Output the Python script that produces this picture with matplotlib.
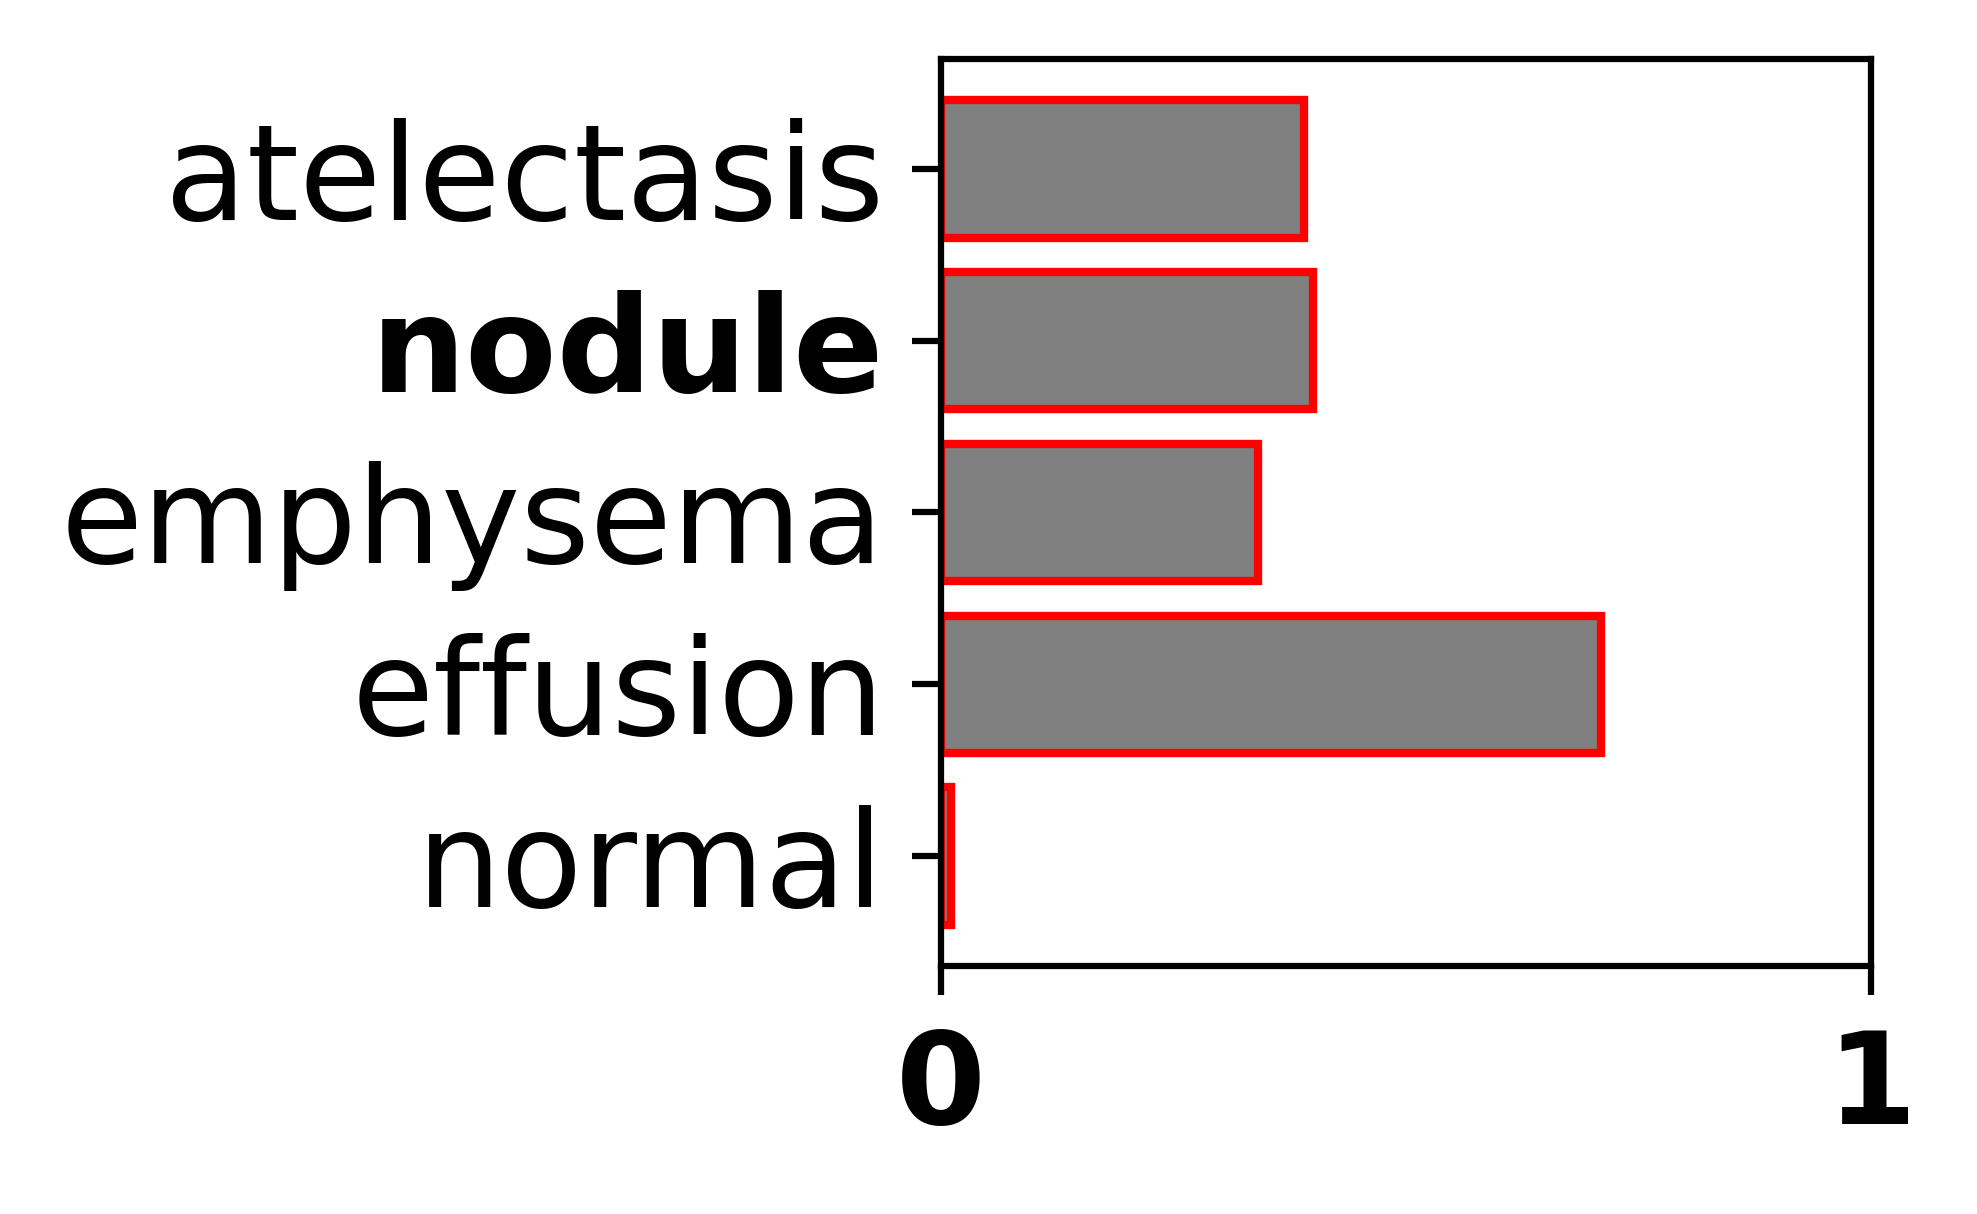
import matplotlib
matplotlib.use("Agg")
import matplotlib.pyplot as plt

categories = ["atelectasis", "nodule", "emphysema", "effusion", "normal"]
values = [0.390, 0.400, 0.341, 0.710, 0.011]
bold_label = "nodule"
xtick_values = [0, 1]
xtick_labels = ["0", "1"]

fig = plt.figure(figsize=(1977 / 300, 1214 / 300), dpi=300)
ax = fig.add_axes([0.4758, 0.2043, 0.9464 - 0.4758, 0.9514 - 0.2043])

ypos = list(range(len(categories)))
ax.barh(ypos, values, height=0.8, color="gray", edgecolor="red", linewidth=2)
ax.set_yticks(ypos)
ax.set_yticklabels(categories, fontsize=32)
for lab in ax.get_yticklabels():
    if lab.get_text() == bold_label:
        lab.set_fontweight("bold")
ax.invert_yaxis()
ax.set_xlim(0, 1)
ax.set_xticks(xtick_values)
ax.set_xticklabels(xtick_labels, fontsize=31, fontweight="bold")

for s in ax.spines.values():
    s.set_linewidth(1.5)
ax.tick_params(axis="both", length=7, width=1.5)
ax.tick_params(axis="y", pad=6.5)
ax.tick_params(axis="x", pad=7.5)

fig.savefig("out.png", dpi=300)
